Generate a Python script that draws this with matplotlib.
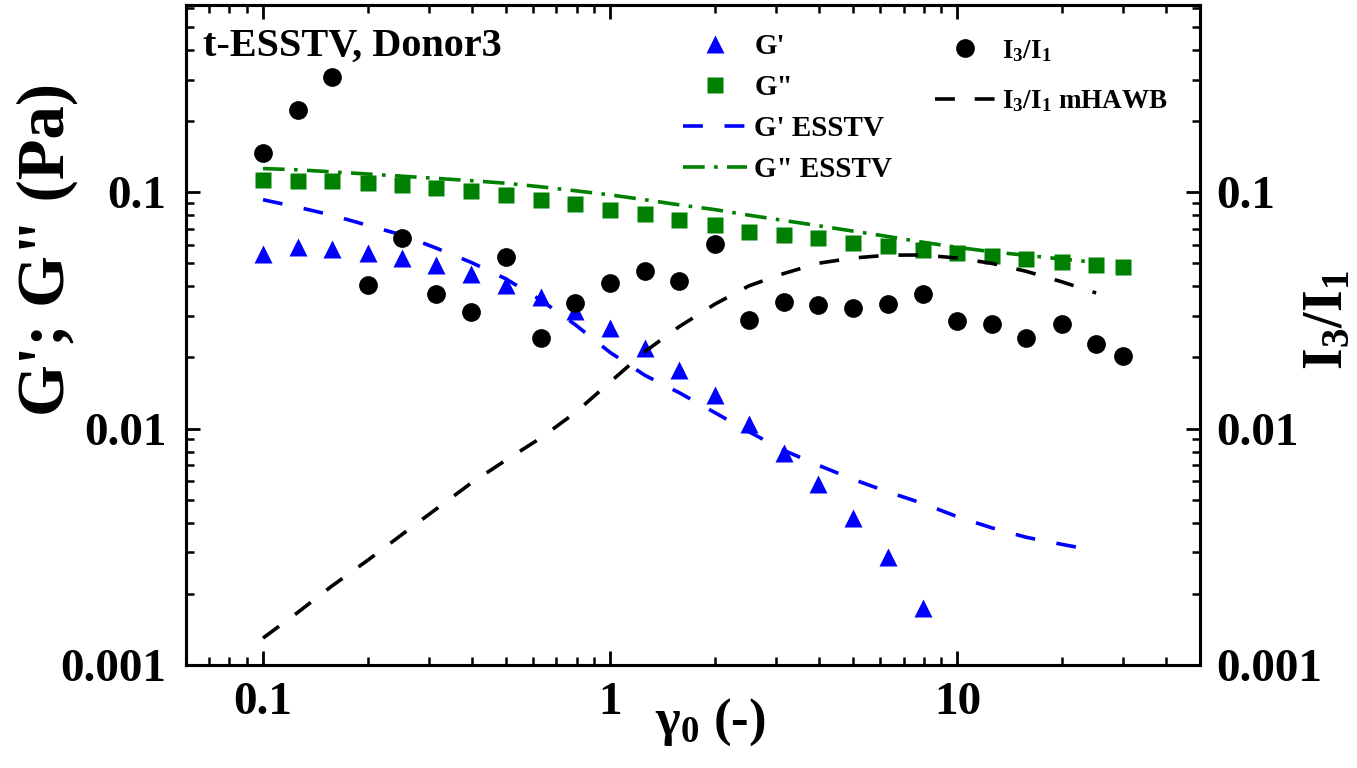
"""
Amplitude sweep chart: G', G'' (left axis) and I3/I1 (right axis) vs strain.
Style: bold serif text, inward ticks, log-log axes, two frameless legends.
"""

import matplotlib
matplotlib.use("Agg")
import matplotlib.pyplot as plt
from matplotlib.ticker import LogLocator, NullFormatter

plt.rcParams["font.family"] = ["Liberation Serif", "DejaVu Serif"]
plt.rcParams["font.weight"] = "bold"
plt.rcParams["mathtext.fontset"] = "custom"
plt.rcParams["mathtext.rm"] = "Liberation Serif:bold"
plt.rcParams["mathtext.it"] = "Liberation Serif:bold"
plt.rcParams["mathtext.bf"] = "Liberation Serif:bold"
plt.rcParams["mathtext.default"] = "rm"

# strain amplitude (-)
gamma = [0.1, 0.126, 0.158, 0.2, 0.251, 0.316, 0.398, 0.501, 0.631, 0.794,
         1.0, 1.26, 1.58, 2.0, 2.51, 3.16, 3.98, 5.01, 6.31, 7.94,
         10.0, 12.6, 15.8, 20.0, 25.1, 30.0]

# measured moduli (Pa)
g_storage = [0.0549, 0.0586, 0.0577, 0.0553, 0.0527, 0.0494, 0.0452, 0.0407, 0.0362, 0.0316,
             0.0266, 0.0219, 0.0177, 0.0139, 0.0105, 0.0079, 0.00586, 0.00417, 0.00286, 0.00174]
g_loss = [0.1124, 0.1113, 0.112, 0.1095, 0.107, 0.1047, 0.101, 0.0971, 0.0931, 0.089,
          0.0845, 0.0807, 0.0761, 0.0724, 0.0679, 0.0658, 0.0638, 0.061, 0.059, 0.0571,
          0.0553, 0.0535, 0.0524, 0.0507, 0.0491, 0.0482]

# third harmonic ratio
i3_i1 = [0.146, 0.223, 0.308, 0.0406, 0.0643, 0.037, 0.0311, 0.0532, 0.0242, 0.034,
         0.0413, 0.0465, 0.0421, 0.0607, 0.0287, 0.0343, 0.0332, 0.0324, 0.0337, 0.037,
         0.0285, 0.0276, 0.0242, 0.0276, 0.0229, 0.0202]

# model curves (evaluated up to 25.1)
g_storage_esstv = [0.093, 0.0865, 0.080, 0.0725, 0.066, 0.058, 0.0505, 0.043, 0.035, 0.0275,
                   0.021, 0.0168, 0.0142, 0.0117, 0.0097, 0.0081, 0.0070, 0.0061, 0.0054, 0.00483,
                   0.00424, 0.0038, 0.00347, 0.00324, 0.00304]
g_loss_esstv = [0.126, 0.1245, 0.122, 0.1195, 0.117, 0.1145, 0.112, 0.1092, 0.1055, 0.1015,
                0.0975, 0.093, 0.0885, 0.0845, 0.080, 0.076, 0.0722, 0.0685, 0.065, 0.0615,
                0.0585, 0.056, 0.0541, 0.0522, 0.0505]
i3_i1_mhawb = [0.0013, 0.00167, 0.00216, 0.00277, 0.00356, 0.00458, 0.00589, 0.00736, 0.00913, 0.0117,
               0.01575, 0.0212, 0.027, 0.0336, 0.0402, 0.0453, 0.0501, 0.0527, 0.0542, 0.0543,
               0.0527, 0.050, 0.0463, 0.0418, 0.0375]

BLUE = "#0000ff"
GREEN = "#008000"
BLACK = "#000000"

fig = plt.figure(figsize=(13.57, 7.68), dpi=100)
ax = fig.add_axes([186 / 1357, 1 - 665 / 768, 1014 / 1357, 660 / 768])
ax2 = ax.twinx()

n_model = len(g_loss_esstv)
l_gs, = ax.plot(gamma[:len(g_storage)], g_storage, "^", color=BLUE, ms=13, mec="none")
l_gl, = ax.plot(gamma, g_loss, "s", color=GREEN, ms=12, mec="none")
l_gse, = ax.plot(gamma[:n_model], g_storage_esstv, color=BLUE, lw=2.6, ls=(0, (5.5, 6.0)))
l_gle, = ax.plot(gamma[:n_model], g_loss_esstv, color=GREEN, lw=2.6, ls=(0, (6.0, 2.6, 1.0, 2.6)))
l_i3, = ax2.plot(gamma, i3_i1, "o", color=BLACK, ms=13.5, mec="none")
l_mh, = ax2.plot(gamma[:n_model], i3_i1_mhawb, color=BLACK, lw=2.6, ls=(0, (5.5, 5.5)))

for a in (ax, ax2):
    a.set_xscale("log")
    a.set_yscale("log")
    a.set_xlim(0.06, 50)
    a.set_ylim(0.001, 0.62)
    a.set_yticks([0.001, 0.01, 0.1], labels=["0.001", "0.01", "0.1"])
    a.yaxis.set_minor_locator(LogLocator(subs=range(2, 10)))
    a.yaxis.set_minor_formatter(NullFormatter())
    for s in a.spines.values():
        s.set_linewidth(2.2)

ax.set_xticks([0.1, 1, 10], labels=["0.1", "1", "10"])
ax.xaxis.set_minor_locator(LogLocator(subs=range(2, 10)))
ax.xaxis.set_minor_formatter(NullFormatter())

ax.tick_params(axis="both", which="major", direction="in", length=10, width=2,
               top=True, right=False, labelsize=34)
ax.tick_params(axis="both", which="minor", direction="in", length=6, width=1.8,
               top=True, right=False)
ax.tick_params(axis="x", pad=12)
ax.tick_params(axis="y", pad=14)
ax2.tick_params(axis="y", which="major", direction="in", length=10, width=2,
                labelsize=34, pad=12)
ax2.tick_params(axis="y", which="minor", direction="in", length=6, width=1.8)

ax.set_xlabel("γ$_0$ (-)", fontsize=38, fontweight="bold")
ax.xaxis.set_label_coords(0.517, -0.048)
ax.xaxis.label.set_verticalalignment("top")

ax.set_ylabel('G\'; G" (Pa)', fontsize=48, fontweight="bold")
ax.yaxis.set_label_coords(-0.137, 0.63)
ax.yaxis.label.set_verticalalignment("center")

ax2.set_ylabel("I$_3$/I$_1$", fontsize=40, fontweight="bold", rotation=90)
ax2.yaxis.set_label_coords(1.126, 0.523)
ax2.yaxis.label.set_verticalalignment("center")

ax.text(0.017, 0.938, "t-ESSTV, Donor3", transform=ax.transAxes,
        fontsize=29, fontweight="bold", ha="left", va="center")

leg_kw = dict(frameon=False, borderpad=0, borderaxespad=0,
              handletextpad=0.25, handlelength=2.2, loc="upper left")
leg1 = ax2.legend(handles=[l_gs, l_gl, l_gse, l_gle],
                  labels=["G'", 'G"', "G' ESSTV", 'G" ESSTV'],
                  bbox_to_anchor=(0.490, 0.958), labelspacing=0.48, fontsize=21, **leg_kw)
ax2.add_artist(leg1)
ax2.legend(handles=[l_i3, l_mh], labels=["I$_3$/I$_1$", "I$_3$/I$_1$ mHAWB"],
           bbox_to_anchor=(0.739, 0.950), labelspacing=0.9, fontsize=19.5, **leg_kw)

fig.savefig("out.png", dpi=100, facecolor="white")
